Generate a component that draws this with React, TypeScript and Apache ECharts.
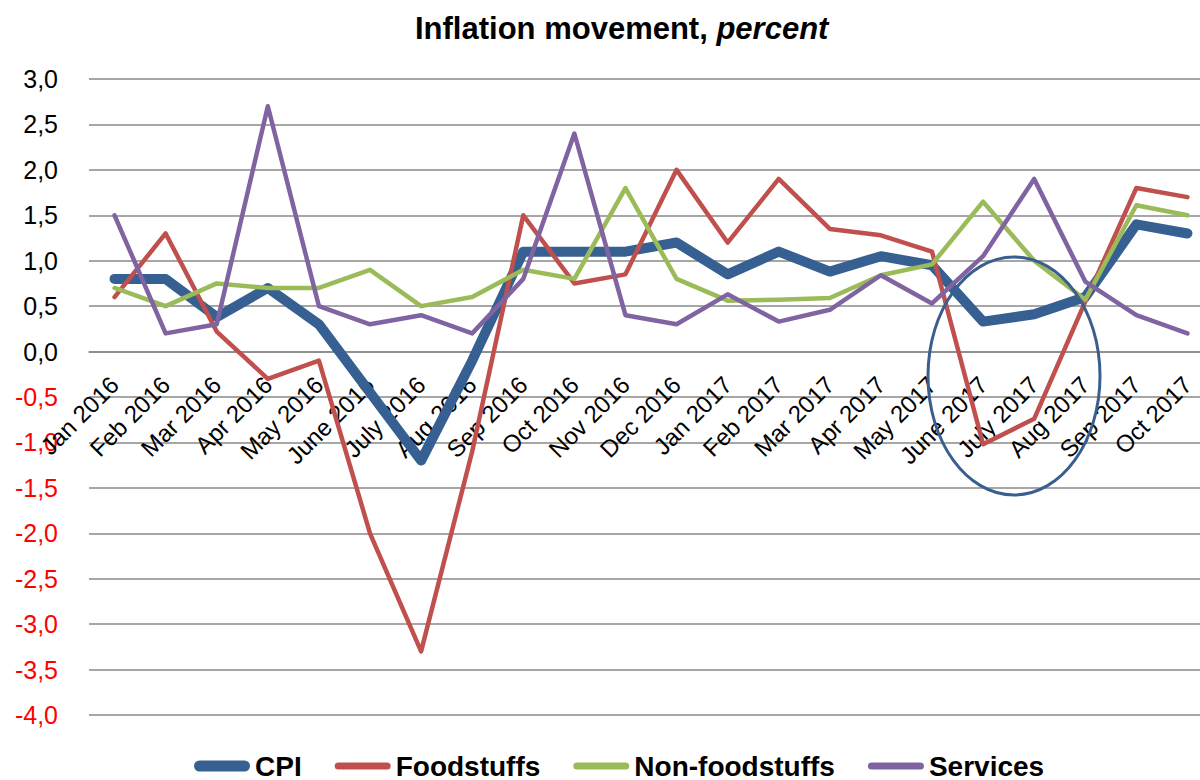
import React, { useEffect, useRef } from "react";
import * as echarts from "echarts";

const months = [
  "Jan 2016", "Feb 2016", "Mar 2016", "Apr 2016", "May 2016", "June 2016",
  "July 2016", "Aug 2016", "Sep 2016", "Oct 2016", "Nov 2016", "Dec 2016",
  "Jan 2017", "Feb 2017", "Mar 2017", "Apr 2017", "May 2017", "June 2017",
  "July 2017", "Aug 2017", "Sep 2017", "Oct 2017",
];

const cpi = [0.8, 0.8, 0.38, 0.7, 0.3, -0.45, -1.2, -0.1, 1.1, 1.1, 1.1, 1.2, 0.85, 1.1, 0.88, 1.05, 0.95, 0.33, 0.41, 0.6, 1.4, 1.3];
const foodstuffs = [0.6, 1.3, 0.22, -0.3, -0.1, -2.0, -3.3, -1.1, 1.5, 0.75, 0.85, 2.0, 1.2, 1.9, 1.35, 1.28, 1.1, -1.02, -0.74, 0.55, 1.8, 1.7];
const nonFoodstuffs = [0.7, 0.5, 0.75, 0.7, 0.7, 0.9, 0.5, 0.6, 0.9, 0.8, 1.8, 0.8, 0.56, 0.57, 0.59, 0.84, 0.96, 1.65, 1.0, 0.57, 1.61, 1.5];
const services = [1.5, 0.2, 0.3, 2.7, 0.5, 0.3, 0.4, 0.2, 0.8, 2.4, 0.4, 0.3, 0.63, 0.33, 0.46, 0.84, 0.53, 1.05, 1.9, 0.77, 0.4, 0.2];

const yMin = -4;
const yMax = 3;

const seriesNames = ["CPI", "Foodstuffs", "Non-foodstuffs", "Services"];
const seriesColors = ["#376092", "#c0504d", "#9bbb59", "#8064a2"];

const FONT = "'Liberation Sans', Arial, sans-serif";

const thickIcon = "path://M0,0L56,0ZM5.5,0L50.5,0A5.5,5.5 0 0 1 50.5,11L5.5,11A5.5,5.5 0 0 1 5.5,0Z";
const thinIcon = "path://M0,0L56,0ZM0,11L56,11ZM3.5,2L52.5,2A3.5,3.5 0 0 1 52.5,9L3.5,9A3.5,3.5 0 0 1 3.5,2Z";

const GRID_TOP = 79;
const GRID_HEIGHT = 636;

export default function App() {
  const ref = useRef<HTMLDivElement>(null);

  useEffect(() => {
    if (!ref.current) return;
    const chart = echarts.init(ref.current, null, { renderer: "svg" });
    const datasets = [cpi, foodstuffs, nonFoodstuffs, services];
    // move the category axis up to the zero line
    const zeroOffset = -(GRID_HEIGHT * (0 - yMin)) / (yMax - yMin);
    chart.setOption({
      animation: false,
      backgroundColor: "#ffffff",
      title: {
        text: "{b|Inflation movement}{n|, }{i|percent}",
        left: 410,
        top: 8,
        textStyle: {
          fontFamily: FONT,
          rich: {
            b: { fontFamily: FONT, fontSize: 31, fontWeight: "bold", color: "#000" },
            n: { fontFamily: FONT, fontSize: 31, color: "#000" },
            i: { fontFamily: FONT, fontSize: 31, fontStyle: "italic", color: "#000" },
          },
        },
      },
      legend: {
        left: 194,
        top: 752,
        padding: 0,
        itemWidth: 56,
        itemHeight: 11,
        itemGap: 33,
        textStyle: { fontFamily: FONT, fontSize: 28, fontWeight: "bold", color: "#000" },
        data: seriesNames.map((n, i) => ({ name: n, icon: i === 0 ? thickIcon : thinIcon })),
      },
      grid: {
        left: 89,
        top: GRID_TOP,
        width: 1124,
        height: GRID_HEIGHT,
        containLabel: false,
        outerBoundsMode: "none",
      },
      xAxis: {
        type: "category",
        data: months,
        boundaryGap: true,
        position: "bottom",
        offset: zeroOffset,
        axisLine: { show: true, onZero: false, lineStyle: { color: "#888888", width: 1.5 } },
        axisTick: { show: false },
        splitLine: { show: false },
        axisLabel: {
          interval: 0,
          rotate: 45,
          margin: 29,
          fontFamily: FONT,
          fontSize: 24,
          color: "#000",
          hideOverlap: false,
        },
      },
      yAxis: {
        type: "value",
        min: yMin,
        max: yMax,
        interval: 0.5,
        axisLine: { show: false },
        axisTick: { show: false },
        splitLine: { show: true, lineStyle: { color: "#888888", width: 1.5 } },
        axisLabel: {
          margin: 31,
          fontFamily: FONT,
          fontSize: 25,
          formatter: (v: number) => v.toFixed(1).replace(".", ","),
          color: (v: any) => (Number(v) < 0 ? "#ff0000" : "#000000"),
        },
      },
      series: datasets.map((d, i) => ({
        name: seriesNames[i],
        type: "line",
        data: d,
        symbol: "none",
        showSymbol: false,
        color: seriesColors[i],
        lineStyle: {
          color: seriesColors[i],
          width: i === 0 ? 10 : 4.5,
          cap: "round",
          join: "round",
        },
        z: 2 + i,
      })),
      graphic: [
        {
          type: "ellipse",
          z: 100,
          shape: { cx: 1014, cy: 376, rx: 86, ry: 119 },
          style: { fill: "none", stroke: "#3a5f8e", lineWidth: 3 },
        },
      ],
    });
    return () => chart.dispose();
  }, []);

  return (
    <div
      ref={ref}
      style={{ position: "absolute", left: 0, top: 0, width: 1200, height: 780 }}
    />
  );
}
